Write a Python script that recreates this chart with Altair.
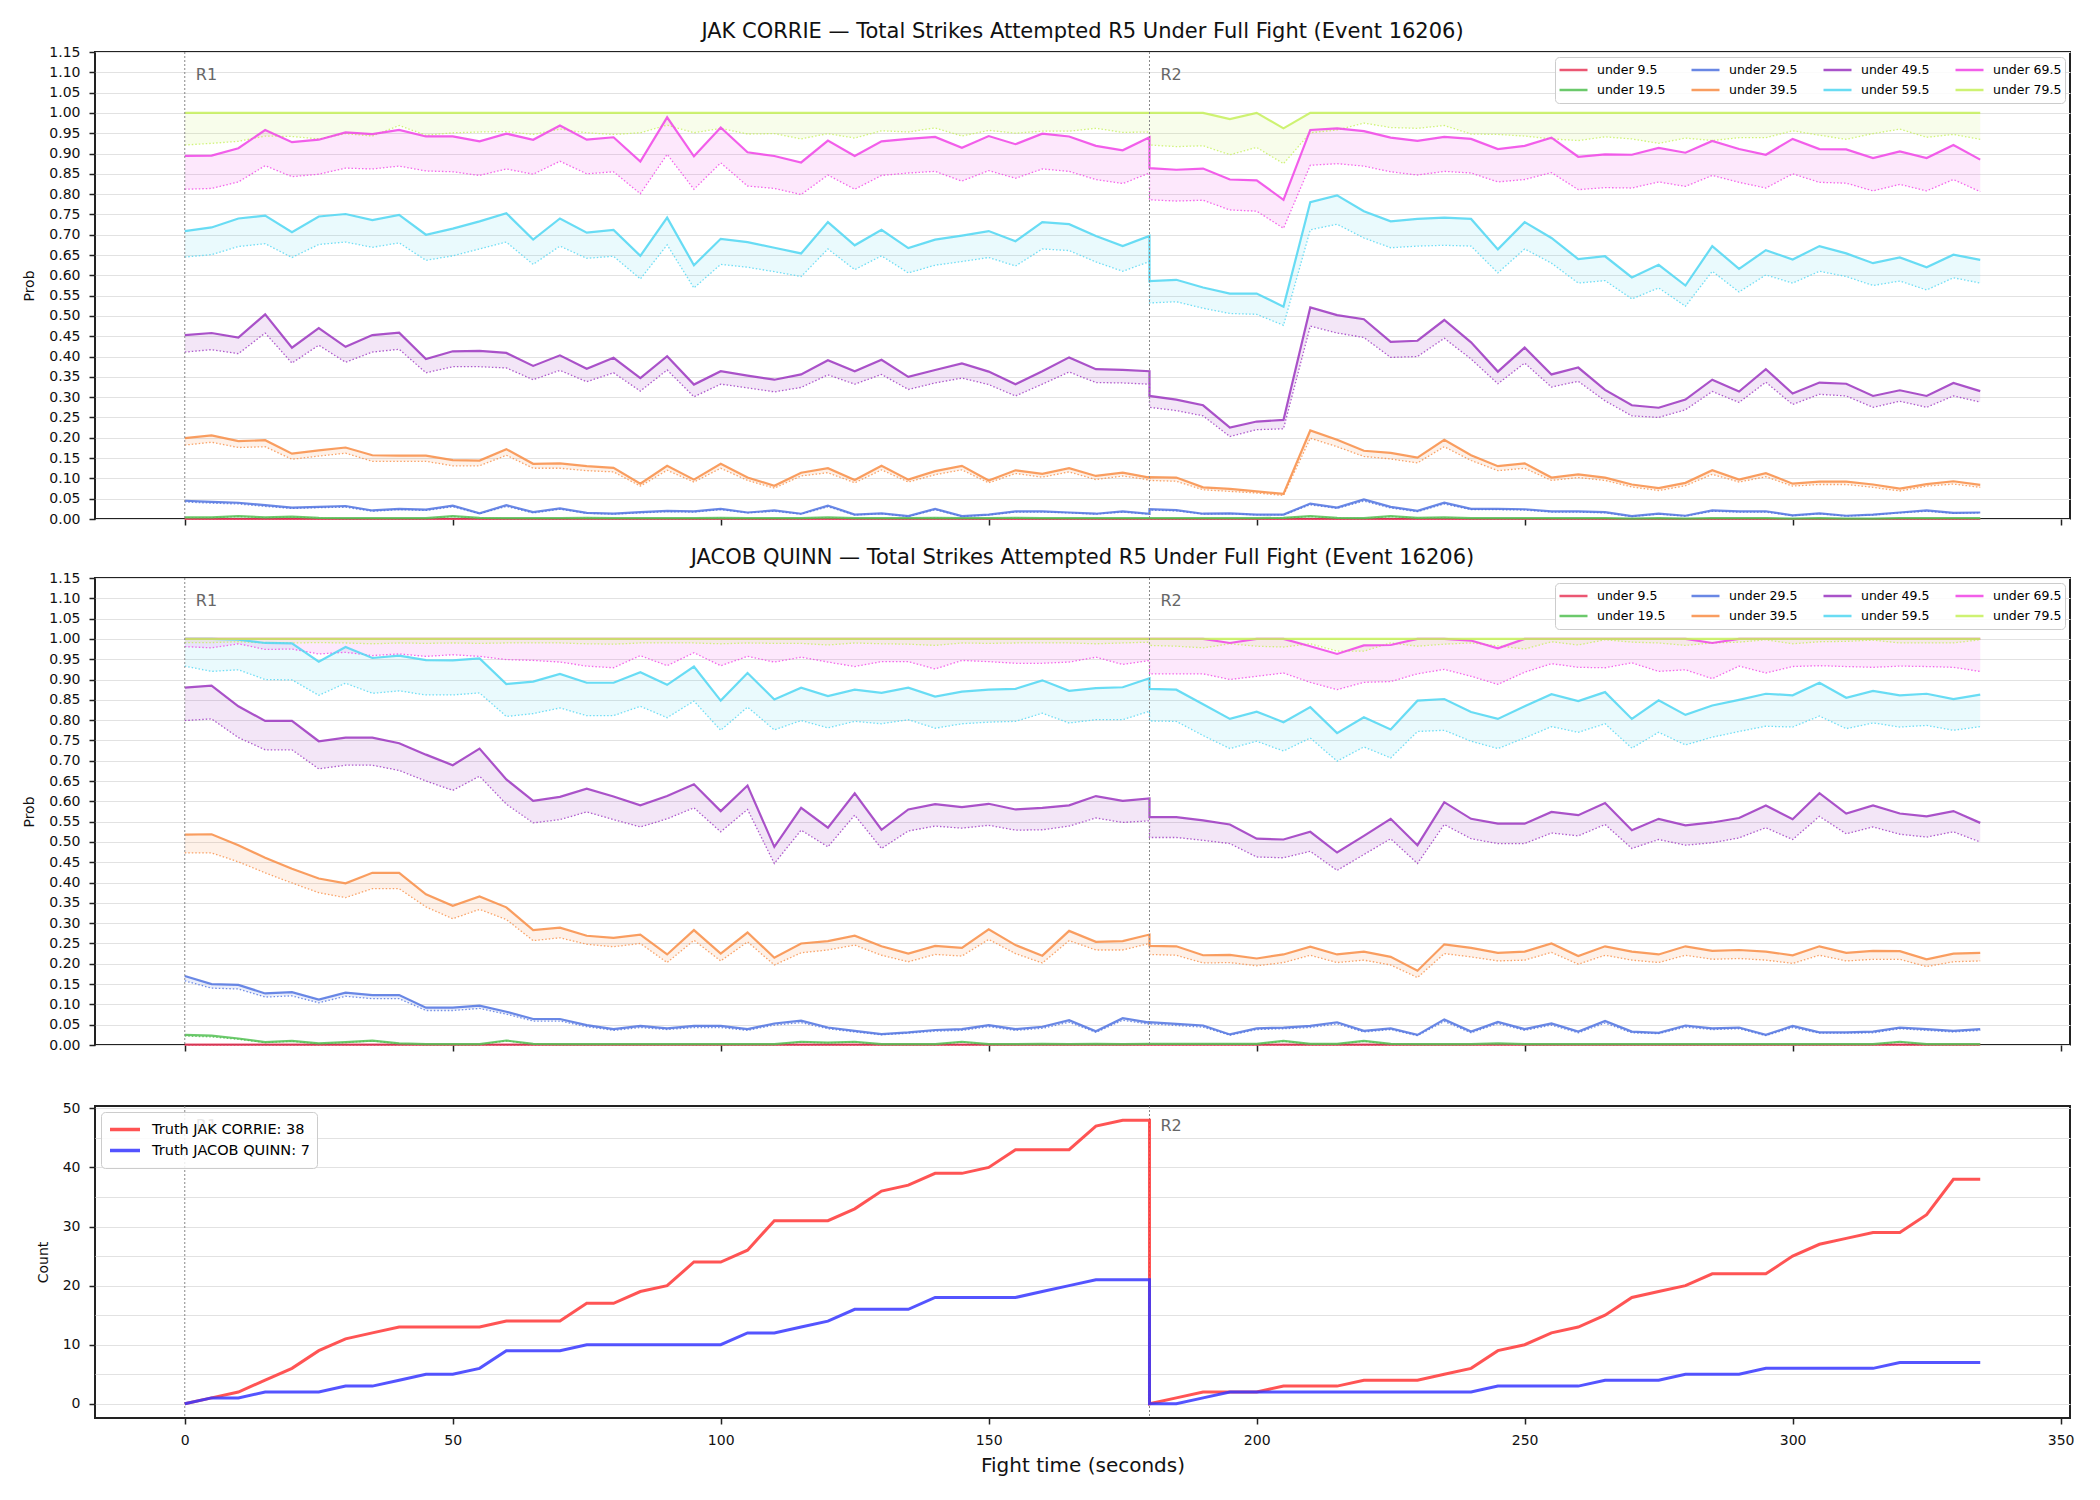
import altair as alt
import pandas as pd

# ---------------- time grid (R1: 0..180, R2: 180..335) ----------------
T_R1 = list(range(0, 181, 5))      # 37 points
T_R2 = list(range(180, 336, 5))    # 32 points
TIMES = T_R1 + T_R2

THRESHOLDS = ["under 9.5", "under 19.5", "under 29.5", "under 39.5",
              "under 49.5", "under 59.5", "under 69.5", "under 79.5"]
COLORS = ["#e8395a", "#52c052", "#5073e0", "#f88d45",
          "#9b35c0", "#4fd6f2", "#f043e6", "#c6f05a"]

ROUND_T = [0, 180]
ROUND_LABEL = ["R1", "R2"]

# ---------------- JAK CORRIE (solid = prob, _F = dotted) ----------------
C_U95 = [0.0] * 37 + [0.0] * 32
C_U95_F = [0.0] * 37 + [0.0] * 32
C_U195 = [0.004,0.004,0.007,0.004,0.006,0.003,0.002,0.002,0.002,0.002,0.007,0.003,0.002,0.002,0.002,0.003,0.002,0.002,0.002,0.002,0.003,0.002,0.002,0.002,0.004,0.002,0.002,0.002,0.003,0.002,0.002,0.003,0.002,0.002,0.002,0.002,0.002] + \
         [0.002,0.002,0.002,0.002,0.002,0.003,0.007,0.003,0.002,0.007,0.003,0.004,0.002,0.002,0.002,0.002,0.002,0.002,0.001,0.002,0.001,0.002,0.002,0.002,0.001,0.002,0.001,0.001,0.002,0.002,0.002,0.002]
C_U195_F = [0.003,0.003,0.006,0.003,0.005,0.002,0.001,0.001,0.001,0.001,0.006,0.002,0.001,0.001,0.001,0.002,0.001,0.001,0.001,0.001,0.002,0.001,0.001,0.001,0.003,0.001,0.001,0.001,0.002,0.001,0.001,0.002,0.001,0.001,0.001,0.001,0.001] + \
           [0.001,0.001,0.001,0.001,0.001,0.002,0.006,0.002,0.001,0.006,0.002,0.003,0.001,0.001,0.001,0.001,0.001,0.001,0.001,0.001,0.001,0.001,0.001,0.001,0.001,0.001,0.001,0.001,0.001,0.001,0.001,0.001]
C_U295 = [0.045,0.042,0.040,0.034,0.028,0.030,0.032,0.021,0.025,0.023,0.033,0.014,0.034,0.017,0.026,0.015,0.013,0.017,0.020,0.019,0.025,0.016,0.021,0.013,0.033,0.011,0.014,0.007,0.025,0.007,0.011,0.019,0.019,0.016,0.013,0.019,0.013] + \
         [0.024,0.022,0.013,0.014,0.011,0.011,0.038,0.028,0.048,0.030,0.020,0.040,0.025,0.025,0.024,0.019,0.019,0.017,0.007,0.013,0.008,0.021,0.019,0.019,0.009,0.014,0.008,0.011,0.016,0.021,0.015,0.016]
C_U295_F = [0.042,0.039,0.037,0.031,0.026,0.028,0.029,0.019,0.023,0.021,0.030,0.013,0.031,0.015,0.024,0.014,0.012,0.015,0.018,0.017,0.023,0.015,0.019,0.012,0.030,0.010,0.013,0.006,0.023,0.006,0.010,0.017,0.017,0.015,0.012,0.017,0.012] + \
           [0.022,0.020,0.012,0.013,0.010,0.010,0.035,0.026,0.044,0.027,0.018,0.037,0.023,0.023,0.022,0.017,0.017,0.015,0.006,0.012,0.007,0.019,0.017,0.017,0.008,0.013,0.007,0.010,0.015,0.019,0.014,0.015]
C_U395 = [0.199,0.206,0.192,0.194,0.161,0.169,0.176,0.157,0.156,0.156,0.145,0.144,0.172,0.136,0.137,0.130,0.126,0.087,0.131,0.097,0.136,0.102,0.082,0.114,0.125,0.096,0.131,0.097,0.118,0.131,0.095,0.120,0.111,0.125,0.106,0.114,0.102] + \
         [0.103,0.102,0.078,0.074,0.068,0.062,0.218,0.195,0.168,0.163,0.151,0.195,0.157,0.130,0.137,0.102,0.110,0.102,0.085,0.076,0.089,0.120,0.097,0.113,0.087,0.092,0.092,0.085,0.075,0.086,0.093,0.084]
C_U395_F = [0.182,0.189,0.176,0.178,0.147,0.155,0.162,0.142,0.142,0.142,0.131,0.131,0.157,0.125,0.125,0.119,0.116,0.081,0.120,0.091,0.125,0.095,0.076,0.106,0.114,0.089,0.121,0.091,0.109,0.121,0.089,0.112,0.103,0.116,0.097,0.106,0.096] + \
           [0.095,0.093,0.072,0.068,0.064,0.058,0.199,0.178,0.154,0.148,0.138,0.178,0.144,0.119,0.125,0.095,0.102,0.095,0.079,0.070,0.082,0.110,0.091,0.104,0.081,0.085,0.085,0.078,0.069,0.081,0.086,0.078]
C_U495 = [0.453,0.458,0.447,0.504,0.422,0.470,0.424,0.453,0.459,0.394,0.413,0.414,0.409,0.377,0.403,0.370,0.397,0.347,0.401,0.331,0.364,0.353,0.343,0.356,0.391,0.364,0.392,0.350,0.367,0.383,0.363,0.332,0.364,0.398,0.369,0.367,0.364] + \
         [0.303,0.294,0.280,0.225,0.240,0.244,0.521,0.502,0.492,0.436,0.439,0.490,0.435,0.363,0.422,0.356,0.373,0.318,0.280,0.274,0.294,0.343,0.314,0.369,0.309,0.336,0.333,0.303,0.317,0.303,0.335,0.315]
C_U495_F = [0.411,0.417,0.407,0.458,0.384,0.428,0.386,0.411,0.418,0.360,0.375,0.375,0.372,0.343,0.366,0.338,0.360,0.315,0.367,0.301,0.332,0.323,0.313,0.324,0.355,0.332,0.356,0.319,0.335,0.347,0.331,0.303,0.332,0.362,0.336,0.335,0.332] + \
           [0.275,0.267,0.254,0.203,0.220,0.222,0.475,0.458,0.447,0.398,0.400,0.445,0.394,0.333,0.384,0.325,0.339,0.291,0.254,0.250,0.269,0.314,0.287,0.337,0.282,0.307,0.303,0.275,0.290,0.275,0.303,0.288]
C_U595 = [0.709,0.718,0.740,0.747,0.706,0.745,0.751,0.736,0.749,0.700,0.715,0.733,0.753,0.688,0.740,0.705,0.712,0.648,0.742,0.625,0.690,0.682,0.668,0.654,0.731,0.674,0.712,0.667,0.688,0.698,0.709,0.684,0.731,0.726,0.697,0.672,0.697] + \
         [0.586,0.589,0.570,0.555,0.555,0.523,0.780,0.797,0.758,0.733,0.739,0.742,0.739,0.664,0.731,0.692,0.640,0.647,0.595,0.626,0.575,0.672,0.616,0.662,0.639,0.672,0.654,0.630,0.644,0.620,0.651,0.638]
C_U595_F = [0.645,0.651,0.671,0.678,0.644,0.676,0.682,0.669,0.680,0.637,0.648,0.665,0.682,0.627,0.672,0.642,0.647,0.591,0.675,0.569,0.627,0.620,0.609,0.597,0.665,0.614,0.648,0.606,0.625,0.634,0.644,0.623,0.665,0.661,0.633,0.610,0.634] + \
           [0.532,0.535,0.519,0.506,0.504,0.477,0.712,0.726,0.692,0.668,0.672,0.674,0.672,0.606,0.665,0.630,0.581,0.587,0.542,0.569,0.524,0.610,0.559,0.601,0.581,0.610,0.597,0.575,0.586,0.564,0.594,0.581]
C_U695 = [0.894,0.895,0.913,0.958,0.928,0.934,0.952,0.948,0.958,0.942,0.942,0.930,0.949,0.934,0.969,0.934,0.940,0.880,0.989,0.893,0.964,0.903,0.894,0.878,0.932,0.894,0.930,0.936,0.941,0.914,0.943,0.923,0.949,0.942,0.919,0.908,0.940] + \
         [0.864,0.860,0.863,0.836,0.834,0.786,0.958,0.962,0.955,0.939,0.931,0.941,0.936,0.911,0.919,0.939,0.892,0.898,0.897,0.914,0.902,0.931,0.911,0.897,0.936,0.911,0.910,0.889,0.905,0.889,0.921,0.885]
C_U695_F = [0.812,0.814,0.830,0.870,0.843,0.849,0.864,0.862,0.869,0.857,0.855,0.846,0.862,0.849,0.881,0.850,0.855,0.801,0.898,0.812,0.877,0.820,0.814,0.799,0.847,0.812,0.846,0.852,0.856,0.832,0.858,0.839,0.862,0.856,0.836,0.826,0.852] + \
           [0.786,0.783,0.785,0.761,0.758,0.716,0.871,0.875,0.869,0.855,0.847,0.856,0.852,0.830,0.836,0.853,0.811,0.816,0.815,0.830,0.819,0.846,0.829,0.815,0.850,0.829,0.827,0.808,0.824,0.808,0.836,0.806]
C_U795 = [1.0] * 37 + \
         [1.0,1.0,1.0,0.985,1.0,0.962,1.0,1.0,1.0,1.0,1.0,1.0,1.0,1.0,1.0,1.0,1.0,1.0,1.0,1.0,1.0,1.0,1.0,1.0,1.0,1.0,1.0,1.0,1.0,1.0,1.0,1.0]
C_U795_F = [0.921,0.925,0.930,0.943,0.942,0.936,0.949,0.943,0.969,0.945,0.951,0.953,0.954,0.947,0.960,0.951,0.947,0.951,0.970,0.951,0.962,0.948,0.949,0.936,0.949,0.938,0.956,0.953,0.963,0.943,0.957,0.950,0.955,0.955,0.962,0.952,0.953] + \
           [0.921,0.917,0.919,0.897,0.915,0.875,0.951,0.958,0.975,0.964,0.962,0.969,0.948,0.947,0.943,0.936,0.932,0.941,0.936,0.925,0.938,0.932,0.939,0.939,0.956,0.945,0.935,0.949,0.960,0.940,0.947,0.935]

# ---------------- JACOB QUINN ----------------
Q_U95 = [0.001] * 37 + [0.001] * 32
Q_U95_F = [0.0] * 37 + [0.0] * 32
Q_U195 = [0.025,0.023,0.016,0.007,0.010,0.004,0.007,0.011,0.004,0.002,0.002,0.002,0.011,0.003,0.002,0.002,0.002,0.002,0.002,0.002,0.002,0.002,0.002,0.008,0.006,0.008,0.002,0.002,0.002,0.008,0.002,0.002,0.003,0.002,0.003,0.002,0.003] + \
         [0.003,0.003,0.003,0.003,0.003,0.010,0.003,0.003,0.010,0.003,0.002,0.002,0.002,0.004,0.002,0.002,0.002,0.002,0.002,0.002,0.002,0.002,0.002,0.002,0.002,0.002,0.002,0.002,0.008,0.002,0.002,0.002]
Q_U195_F = [0.022,0.020,0.014,0.006,0.009,0.003,0.006,0.010,0.003,0.001,0.001,0.001,0.010,0.002,0.001,0.001,0.001,0.001,0.001,0.001,0.001,0.001,0.001,0.007,0.005,0.007,0.001,0.001,0.001,0.007,0.001,0.001,0.002,0.001,0.002,0.001,0.002] + \
           [0.002,0.002,0.002,0.002,0.002,0.009,0.002,0.002,0.009,0.002,0.001,0.001,0.001,0.003,0.001,0.001,0.001,0.001,0.001,0.001,0.001,0.001,0.001,0.001,0.001,0.001,0.001,0.001,0.007,0.001,0.001,0.001]
Q_U295 = [0.170,0.150,0.148,0.127,0.130,0.112,0.129,0.123,0.123,0.092,0.092,0.097,0.082,0.064,0.064,0.049,0.039,0.047,0.041,0.047,0.047,0.039,0.053,0.060,0.043,0.035,0.027,0.031,0.037,0.039,0.049,0.039,0.045,0.061,0.034,0.066,0.055] + \
         [0.056,0.052,0.048,0.026,0.041,0.043,0.047,0.056,0.035,0.041,0.025,0.063,0.033,0.057,0.039,0.053,0.033,0.059,0.033,0.030,0.048,0.041,0.043,0.025,0.047,0.031,0.031,0.033,0.043,0.039,0.035,0.039]
Q_U295_F = [0.158,0.140,0.138,0.118,0.121,0.104,0.120,0.114,0.114,0.085,0.085,0.090,0.076,0.059,0.059,0.045,0.036,0.043,0.038,0.043,0.043,0.036,0.049,0.055,0.040,0.032,0.025,0.029,0.034,0.036,0.045,0.036,0.041,0.056,0.031,0.061,0.051] + \
           [0.052,0.048,0.044,0.024,0.038,0.040,0.043,0.052,0.032,0.038,0.023,0.058,0.030,0.053,0.036,0.049,0.030,0.054,0.030,0.028,0.044,0.038,0.040,0.023,0.043,0.029,0.029,0.030,0.040,0.036,0.032,0.036]
Q_U395 = [0.518,0.519,0.492,0.461,0.434,0.410,0.398,0.424,0.424,0.371,0.343,0.366,0.339,0.283,0.289,0.269,0.264,0.272,0.223,0.283,0.225,0.277,0.215,0.250,0.256,0.269,0.243,0.225,0.244,0.239,0.285,0.246,0.220,0.281,0.254,0.256,0.272] + \
         [0.244,0.243,0.221,0.222,0.213,0.223,0.242,0.223,0.230,0.217,0.183,0.248,0.239,0.227,0.230,0.250,0.219,0.243,0.230,0.223,0.243,0.232,0.234,0.230,0.221,0.243,0.227,0.232,0.231,0.211,0.225,0.227]
Q_U395_F = [0.473,0.473,0.451,0.424,0.399,0.375,0.363,0.385,0.385,0.340,0.311,0.334,0.309,0.257,0.264,0.248,0.242,0.250,0.203,0.258,0.207,0.254,0.197,0.227,0.234,0.246,0.221,0.205,0.223,0.219,0.260,0.225,0.202,0.257,0.234,0.234,0.250] + \
           [0.223,0.221,0.202,0.203,0.195,0.203,0.221,0.203,0.209,0.197,0.166,0.225,0.217,0.207,0.209,0.228,0.199,0.221,0.209,0.203,0.221,0.211,0.213,0.209,0.201,0.221,0.207,0.211,0.211,0.193,0.205,0.207]
Q_U495 = [0.880,0.885,0.834,0.798,0.798,0.748,0.757,0.757,0.743,0.715,0.689,0.730,0.654,0.601,0.611,0.631,0.612,0.590,0.613,0.642,0.576,0.639,0.488,0.584,0.535,0.620,0.530,0.580,0.593,0.586,0.594,0.580,0.584,0.590,0.613,0.601,0.607] + \
         [0.561,0.561,0.553,0.543,0.508,0.506,0.525,0.474,0.515,0.557,0.492,0.598,0.557,0.545,0.545,0.574,0.566,0.596,0.529,0.557,0.541,0.548,0.559,0.590,0.556,0.620,0.570,0.590,0.570,0.563,0.576,0.547]
Q_U495_F = [0.799,0.803,0.757,0.727,0.727,0.680,0.689,0.689,0.676,0.650,0.627,0.662,0.593,0.547,0.555,0.574,0.555,0.537,0.557,0.584,0.525,0.580,0.447,0.529,0.488,0.566,0.484,0.527,0.539,0.534,0.541,0.529,0.530,0.539,0.559,0.548,0.552] + \
           [0.511,0.511,0.504,0.496,0.463,0.461,0.477,0.430,0.469,0.508,0.447,0.543,0.508,0.496,0.496,0.522,0.515,0.543,0.484,0.506,0.492,0.498,0.510,0.535,0.506,0.563,0.520,0.537,0.519,0.512,0.525,0.500]
Q_U595 = [1.0,1.0,0.998,0.990,0.989,0.944,0.980,0.953,0.959,0.948,0.947,0.952,0.889,0.895,0.914,0.892,0.892,0.918,0.887,0.932,0.848,0.916,0.851,0.880,0.859,0.875,0.867,0.880,0.858,0.870,0.875,0.877,0.898,0.872,0.879,0.881,0.903] + \
         [0.877,0.875,0.839,0.803,0.821,0.795,0.832,0.768,0.807,0.777,0.848,0.852,0.820,0.803,0.834,0.864,0.847,0.869,0.803,0.849,0.813,0.836,0.850,0.865,0.861,0.892,0.855,0.872,0.861,0.865,0.852,0.863]
Q_U595_F = [0.933,0.920,0.924,0.900,0.899,0.861,0.891,0.866,0.872,0.862,0.862,0.867,0.809,0.816,0.830,0.811,0.811,0.834,0.806,0.847,0.775,0.832,0.776,0.799,0.781,0.797,0.791,0.801,0.780,0.791,0.795,0.797,0.817,0.793,0.801,0.801,0.822] + \
           [0.798,0.797,0.762,0.730,0.748,0.724,0.756,0.699,0.734,0.707,0.772,0.775,0.748,0.730,0.756,0.784,0.770,0.791,0.731,0.770,0.739,0.758,0.772,0.785,0.783,0.810,0.779,0.793,0.783,0.787,0.775,0.784]
Q_U695 = [1.0] * 37 + \
         [1.0,1.0,1.0,0.990,1.0,1.0,0.982,0.963,0.984,0.985,1.0,1.0,0.996,0.977,1.0,1.0,1.0,1.0,1.0,1.0,1.0,0.990,1.0,1.0,1.0,1.0,1.0,1.0,1.0,1.0,1.0,1.0]
Q_U695_F = [0.981,0.978,0.988,0.974,0.975,0.963,0.967,0.959,0.963,0.957,0.961,0.957,0.949,0.947,0.943,0.933,0.929,0.959,0.934,0.966,0.934,0.957,0.943,0.955,0.943,0.932,0.944,0.944,0.926,0.947,0.944,0.940,0.940,0.943,0.955,0.937,0.947] + \
           [0.914,0.914,0.914,0.900,0.908,0.916,0.893,0.875,0.893,0.895,0.914,0.925,0.908,0.888,0.918,0.939,0.930,0.929,0.941,0.920,0.924,0.902,0.933,0.916,0.932,0.934,0.932,0.930,0.933,0.932,0.930,0.920]
Q_U795 = [1.0] * 37 + [1.0] * 32
Q_U795_F = [0.991,0.991,0.993,0.990,0.990,0.991,0.990,0.988,0.990,0.989,0.990,0.989,0.990,0.990,0.990,0.988,0.987,0.990,0.990,0.990,0.988,0.990,0.989,0.989,0.985,0.990,0.988,0.987,0.984,0.990,0.989,0.990,0.990,0.990,0.988,0.990,0.992] + \
           [0.984,0.982,0.978,0.988,0.982,0.980,0.988,0.970,0.970,0.990,0.982,0.987,0.990,0.983,0.975,0.993,0.985,0.998,0.992,0.990,0.984,0.990,0.992,0.998,0.988,0.993,0.994,0.997,0.990,0.990,0.990,0.998]

# ---------------- Truth counts ----------------
TRUTH_NAMES = ["Truth JAK CORRIE: 38", "Truth JACOB QUINN: 7"]
TRUTH_COLORS = ["#ff3636", "#3636ff"]
RED_COUNT = [0,1,2,4,6,9,11,12,13,13,13,13,14,14,14,17,17,19,20,24,24,26,31,31,31,33,36,37,39,39,40,43,43,43,47,48,48] + \
            [0,1,2,2,2,3,3,3,4,4,4,5,6,9,10,12,13,15,18,19,20,22,22,22,25,27,28,29,29,32,38,38]
BLUE_COUNT = [0,1,1,2,2,2,3,3,4,5,5,6,9,9,9,10,10,10,10,10,10,12,12,13,14,16,16,16,18,18,18,18,19,20,21,21,21] + \
             [0,0,1,2,2,2,2,2,2,2,2,2,2,3,3,3,3,4,4,4,5,5,5,6,6,6,6,6,7,7,7,7]

# ---------------- tables ----------------
CORRIE = {"solid": [C_U95, C_U195, C_U295, C_U395, C_U495, C_U595, C_U695, C_U795],
          "fair": [C_U95_F, C_U195_F, C_U295_F, C_U395_F, C_U495_F, C_U595_F, C_U695_F, C_U795_F]}
QUINN = {"solid": [Q_U95, Q_U195, Q_U295, Q_U395, Q_U495, Q_U595, Q_U695, Q_U795],
         "fair": [Q_U95_F, Q_U195_F, Q_U295_F, Q_U395_F, Q_U495_F, Q_U595_F, Q_U695_F, Q_U795_F]}


def prob_table(src):
    rows = []
    for k, sol, fai in zip(THRESHOLDS, src["solid"], src["fair"]):
        for i, (t, p, f) in enumerate(zip(TIMES, sol, fai)):
            rows.append({"k": k, "t": t, "i": i, "p": p, "f": f})
    return pd.DataFrame(rows)


rounds_df = pd.DataFrame({"t": ROUND_T, "label": ROUND_LABEL})

FONT = "DejaVu Sans"
W = 1975
X_SCALE = alt.Scale(domain=[-16.75, 351.75], nice=False, zero=False)
X_TICKS = [0, 50, 100, 150, 200, 250, 300, 350]
Y_TICKS = [round(0.05 * i, 2) for i in range(24)]


def prob_panel(src, title):
    df = prob_table(src)
    base = alt.Chart(df)
    x = alt.X("t:Q", scale=X_SCALE,
              axis=alt.Axis(values=X_TICKS, labels=False, title=None, grid=False))
    yax = alt.Axis(values=Y_TICKS, format=".2f", title="Prob", grid=True)
    ysc = alt.Scale(domain=[0, 1.15], nice=False, zero=True)
    area = base.mark_area(opacity=0.12).encode(
        x=x,
        y=alt.Y("p:Q", scale=ysc, axis=yax, stack=None),
        y2="f:Q",
        fill=alt.Fill("k:N", scale=alt.Scale(domain=THRESHOLDS, range=COLORS), legend=None),
    )
    dotted = base.mark_line(strokeWidth=1.3, strokeDash=[1.5, 2], opacity=0.8).encode(
        x=x,
        y=alt.Y("f:Q", scale=ysc, axis=yax),
        stroke=alt.Stroke("k:N", scale=alt.Scale(domain=THRESHOLDS, range=COLORS), legend=None),
        order=alt.Order("i:Q"),
    )
    solid = base.mark_line(strokeWidth=2.2, opacity=0.85).encode(
        x=x,
        y=alt.Y("p:Q", scale=ysc, axis=yax),
        color=alt.Color("k:N", scale=alt.Scale(domain=THRESHOLDS, range=COLORS),
                        legend=alt.Legend(title=None, orient="top-right", columns=4,
                                          symbolType="stroke", symbolSize=784, clipHeight=20,
                                          symbolStrokeWidth=2.5, labelFontSize=12.5,
                                          labelFont=FONT, labelOffset=8, labelLimit=200,
                                          columnPadding=24, rowPadding=0, padding=3,
                                          fillColor="rgba(255,255,255,0.85)",
                                          strokeColor="#cccccc", cornerRadius=4,
                                          offset=5)),
        order=alt.Order("i:Q"),
    )
    rules = alt.Chart(rounds_df).mark_rule(strokeDash=[2, 2], color="#888888", strokeWidth=1).encode(x=x)
    labels = alt.Chart(rounds_df).mark_text(align="left", baseline="middle", dx=11,
                                            fontSize=16, color="#666666", font=FONT).encode(
        x=x, y=alt.value(23), text="label:N")
    return alt.layer(area, dotted, solid, rules, labels).properties(
        width=W, height=467,
        title=alt.TitleParams(title, fontSize=21, fontWeight="normal", font=FONT,
                              offset=3, anchor="middle", color="#111111"))


top = prob_panel(CORRIE, "JAK CORRIE \u2014 Total Strikes Attempted R5 Under Full Fight (Event 16206)")
mid = prob_panel(QUINN, "JACOB QUINN \u2014 Total Strikes Attempted R5 Under Full Fight (Event 16206)")

truth_rows = []
for name, vals in zip(TRUTH_NAMES, [RED_COUNT, BLUE_COUNT]):
    for i, (t, v) in enumerate(zip(TIMES, vals)):
        truth_rows.append({"who": name, "t": t, "i": i, "c": v})
truth_df = pd.DataFrame(truth_rows)

xb = alt.X("t:Q", scale=X_SCALE,
           axis=alt.Axis(values=X_TICKS, title="Fight time (seconds)", grid=False,
                         titleFontSize=20, titlePadding=8))
count_lines = alt.Chart(truth_df).mark_line(strokeWidth=3, opacity=0.85).encode(
    x=xb,
    y=alt.Y("c:Q", scale=alt.Scale(domain=[-2.4, 50.4], nice=False, zero=False),
            axis=alt.Axis(values=list(range(0, 51, 5)), title="Count", grid=True,
                          labelExpr="datum.value % 10 === 0 ? datum.label : ''",
                          tickColor={"condition": {"test": "datum.value % 10 === 0", "value": "#222222"},
                                     "value": "transparent"})),
    color=alt.Color("who:N", scale=alt.Scale(domain=TRUTH_NAMES, range=TRUTH_COLORS),
                    legend=alt.Legend(title=None, orient="top-left", symbolType="stroke",
                                      symbolSize=900, clipHeight=21, symbolStrokeWidth=3.5,
                                      labelFontSize=14.5, labelFont=FONT, labelOffset=10,
                                      labelLimit=400, rowPadding=0, padding=7,
                                      fillColor="rgba(255,255,255,0.85)",
                                      strokeColor="#cccccc", cornerRadius=4, offset=6)),
    order=alt.Order("i:Q"),
)
b_rules = alt.Chart(rounds_df).mark_rule(strokeDash=[2, 2], color="#888888", strokeWidth=1).encode(x=xb)
b_labels = alt.Chart(rounds_df).mark_text(align="left", baseline="middle", dx=11,
                                          fontSize=16, color="#666666", font=FONT).encode(
    x=xb, y=alt.value(20), text="label:N")
bottom = alt.layer(b_rules, b_labels, count_lines).properties(width=W, height=312)

inner = alt.vconcat(top, mid, spacing=19).resolve_scale(color="independent")
chart = alt.vconcat(inner, bottom, spacing=47).resolve_scale(color="independent").properties(
    padding={"left": 21, "top": 20, "right": 10, "bottom": 10}
).configure(font=FONT, background="white").configure_view(
    stroke="#222222", strokeWidth=2
).configure_axis(
    domain=False, labelFontSize=14, labelColor="#111111", labelFont=FONT,
    tickColor="#222222", tickSize=6, tickWidth=1.5, labelPadding=9,
    gridColor="#e2e2e2", gridWidth=1,
    titleFontSize=14, titleFontWeight="normal", titleColor="#111111", titleFont=FONT,
    titlePadding=12,
)

chart.save("out.html", embed_options={"renderer": "svg", "actions": False})
